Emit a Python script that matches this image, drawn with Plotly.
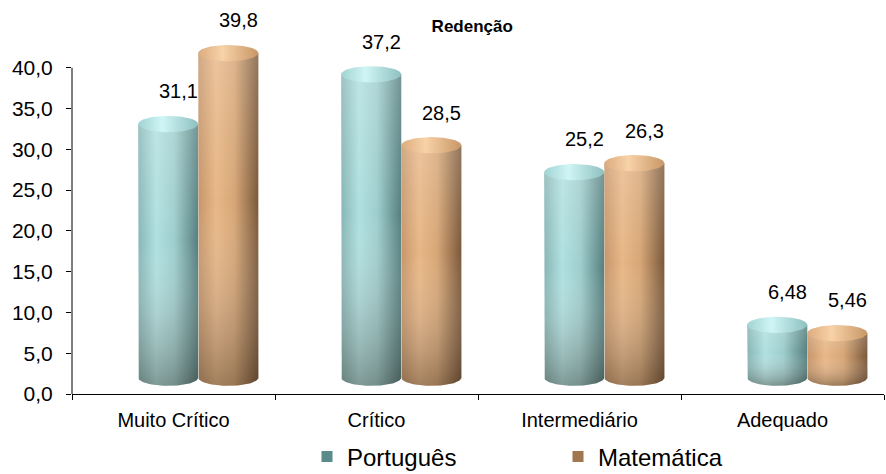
import numpy as np
import plotly.graph_objects as go

# ---- data -------------------------------------------------------------
categories = ["Muito Crítico", "Crítico", "Intermediário", "Adequado"]
portugues = [31.1, 37.2, 25.2, 6.48]
matematica = [39.8, 28.5, 26.3, 5.46]
y_ticks = [0, 5, 10, 15, 20, 25, 30, 35, 40]

# ---- cylinder geometry (category units / y units) ----------------------
BAR_W = 0.296          # width of one cylinder
DEPTH_Y = 2.0          # oblique 3D lift of the cylinders
RY = 1.0               # vertical radius of the elliptical ends
FONT = "Liberation Sans, Arial, sans-serif"

series = [
    dict(
        name="Português", values=portugues, offset=-0.026, legend="legend",
        legend_color="#5a8a8a",
        body=[[0, "#88b5b5"], [0.3, "#b0e0e0"], [0.6, "#9fcdcd"], [1, "#557e7e"]],
        cap=[[0, "#a2d3d3"], [0.4, "#d0f5f5"], [1, "#8ec0c0"]],
    ),
    dict(
        name="Matemática", values=matematica, offset=0.270, legend="legend2",
        legend_color="#a0774f",
        body=[[0, "#c6966a"], [0.3, "#e8b787"], [0.6, "#d6a676"], [1, "#7a583a"]],
        cap=[[0, "#dcac7e"], [0.4, "#f8d2a8"], [1, "#c89766"]],
    ),
]

# vertical light falloff laid over each cylinder body
shade = [[0, "rgba(40,30,20,0.36)"], [0.55, "rgba(255,255,255,0)"],
         [1, "rgba(255,255,255,0.18)"]]

fig = go.Figure()


def add_cylinder(xc, value, body_scale, cap_scale):
    x0, x1 = xc - BAR_W / 2, xc + BAR_W / 2
    yb, yt = DEPTH_Y, value + DEPTH_Y
    t = np.linspace(np.pi, 2 * np.pi, 48)
    xs = [x0] + list(xc + BAR_W / 2 * np.cos(t)) + [x1, x0]
    ys = [yt] + list(yb + RY * np.sin(t)) + [yt, yt]
    common = dict(mode="lines", line=dict(width=0), fill="toself",
                  hoverinfo="skip", showlegend=False)
    fig.add_trace(go.Scatter(x=xs, y=ys, fillgradient=dict(
        type="horizontal", colorscale=body_scale), **common))
    fig.add_trace(go.Scatter(x=xs, y=ys, fillgradient=dict(
        type="vertical", colorscale=shade), **common))
    tc = np.linspace(0, 2 * np.pi, 72)
    fig.add_trace(go.Scatter(
        x=xc + BAR_W / 2 * np.cos(tc), y=yt + RY * np.sin(tc),
        fillgradient=dict(type="horizontal", colorscale=cap_scale), **common))


for s in series:
    for i, v in enumerate(s["values"]):
        xc = i + s["offset"]
        add_cylinder(xc, v, s["body"], s["cap"])
        fig.add_annotation(
            x=xc, y=v, text=f"{v}".replace(".", ","), showarrow=False,
            xshift=10, yshift=49, font=dict(family=FONT, size=20, color="#000"),
        )
    fig.add_trace(go.Scatter(
        x=[None], y=[None], mode="markers", name=s["name"], legend=s["legend"],
        marker=dict(symbol="square", size=11, color=s["legend_color"]),
    ))

# y axis line up to the top tick
fig.add_shape(type="line", xref="paper", yref="y", x0=0, x1=0, y0=0, y1=40,
              line=dict(color="#000", width=1))

legend_common = dict(orientation="h", yanchor="middle", xanchor="left",
                     yref="container", y=1 - 457 / 474,
                     bgcolor="rgba(0,0,0,0)", borderwidth=0,
                     font=dict(family=FONT, size=24, color="#000"))

fig.update_layout(
    width=886, height=474,
    margin=dict(l=72, r=2, t=27, b=80),
    paper_bgcolor="white", plot_bgcolor="white",
    separators=",.",
    title=dict(text="<b>Redenção</b>", x=0.533, xanchor="center",
               y=1 - 26 / 474, yanchor="middle", yref="container",
               font=dict(family=FONT, size=17, color="#000")),
    xaxis=dict(
        range=[-0.5, 3.5], tickmode="array", tickvals=[0, 1, 2, 3],
        ticktext=categories, ticks="", showgrid=False, zeroline=False,
        showline=True, linecolor="#000", linewidth=1,
        ticklabelstandoff=8,
        tickfont=dict(family=FONT, size=20, color="#000"),
        minor=dict(tickmode="array", tickvals=[-0.5, 0.5, 1.5, 2.5, 3.5],
                   ticks="outside", ticklen=5, tickcolor="#000", showgrid=False),
    ),
    yaxis=dict(
        range=[0, 45], tickmode="array", tickvals=y_ticks, tickformat=".1f",
        ticks="outside", ticklen=5, tickcolor="#000", showgrid=False,
        zeroline=False, showline=False, ticklabelstandoff=9,
        tickfont=dict(family=FONT, size=21, color="#000"),
    ),
    legend=dict(x=(307 - 72) / 812, **legend_common),
    legend2=dict(x=(558 - 72) / 812, **legend_common),
)

fig.write_html("out.html")
